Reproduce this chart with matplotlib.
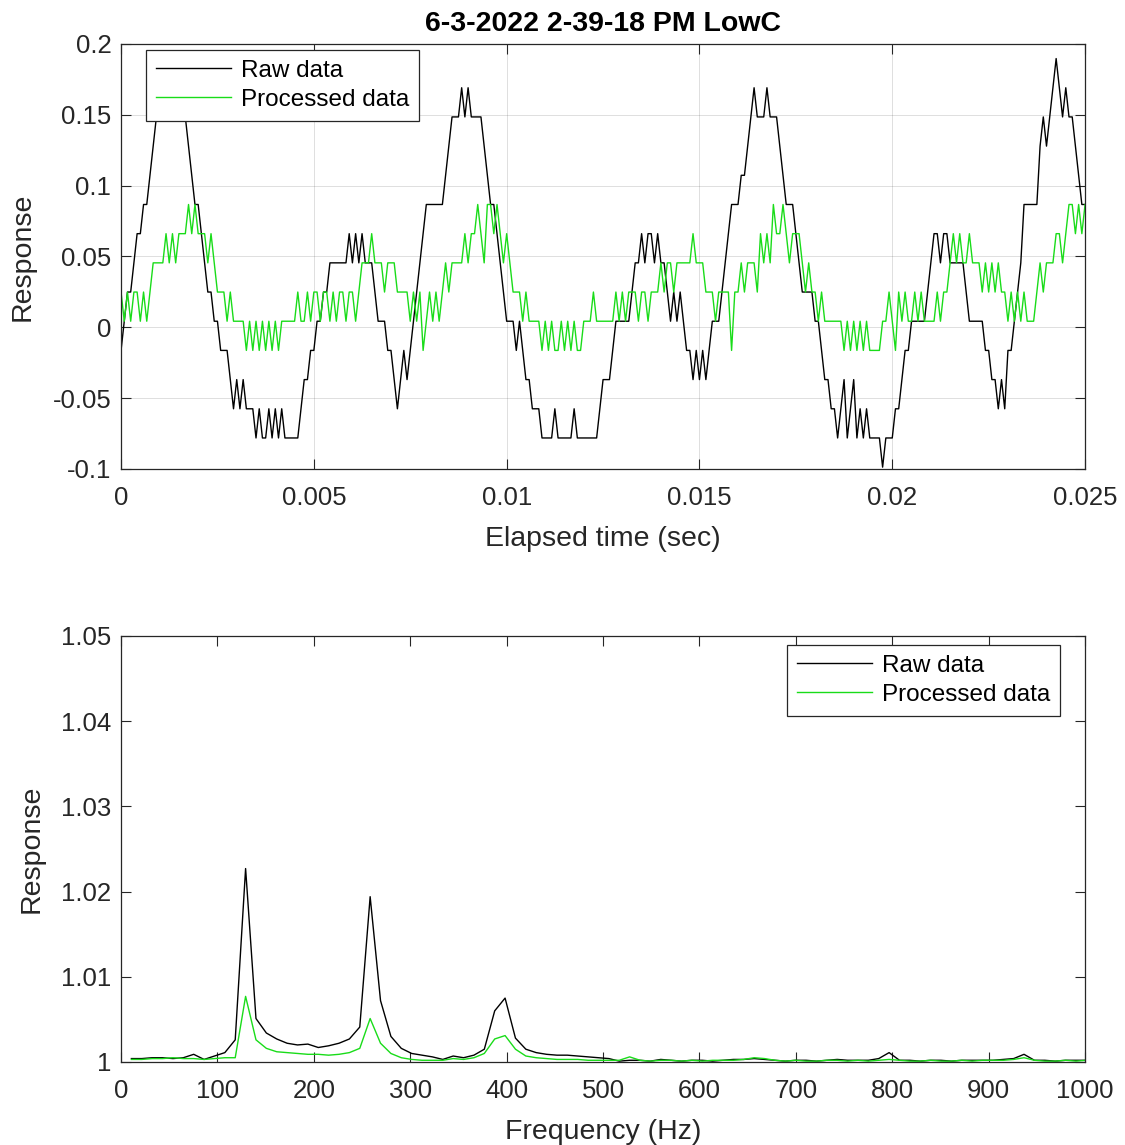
import numpy as np
import matplotlib.pyplot as plt
from matplotlib.ticker import FuncFormatter, MultipleLocator

plt.rcParams["font.family"] = ["Liberation Sans", "DejaVu Sans"]

title = "6-3-2022 2-39-18 PM LowC"

# quantised output levels of the capture; a code k maps to levels[k + 5]
levels = [-0.0987, -0.0781, -0.0575, -0.0369, -0.0163, 0.0043, 0.0249, 0.0455,
          0.0661, 0.0867, 0.1073, 0.1279, 0.1485, 0.1691, 0.1897]

sample_rate = 12000  # Hz

# level codes per sample, 0 .. 0.025 s
raw_codes = [
    -1, 0, 1, 1, 2, 3, 3, 4, 4, 5,
    6, 7, 7, 8, 7, 8, 7, 7, 8, 7,
    7, 6, 5, 4, 4, 3, 2, 1, 1, 0,
    0, -1, -1, -1, -2, -3, -2, -3, -2, -3,
    -3, -3, -4, -3, -4, -4, -3, -4, -3, -4,
    -3, -4, -4, -4, -4, -4, -3, -2, -2, -1,
    -1, 0, 0, 1, 1, 2, 2, 2, 2, 2,
    2, 3, 2, 3, 2, 3, 2, 2, 2, 1,
    0, 0, 0, -1, -1, -2, -3, -2, -1, -2,
    -1, 0, 1, 2, 3, 4, 4, 4, 4, 4,
    4, 5, 6, 7, 7, 7, 8, 7, 8, 7,
    7, 7, 7, 6, 5, 4, 4, 3, 2, 1,
    0, 0, 0, -1, 0, -1, -2, -2, -3, -3,
    -3, -4, -4, -4, -4, -3, -4, -4, -4, -4,
    -4, -3, -4, -4, -4, -4, -4, -4, -4, -3,
    -2, -2, -2, -1, 0, 0, 0, 0, 0, 1,
    2, 2, 3, 2, 3, 3, 2, 3, 2, 2,
    1, 0, 1, 0, 1, 0, -1, -1, -2, -1,
    -2, -1, -2, -1, 0, 0, 0, 1, 2, 3,
    4, 4, 4, 5, 5, 6, 7, 8, 7, 7,
    7, 8, 7, 7, 7, 6, 5, 4, 4, 4,
    3, 2, 1, 1, 1, 1, 0, 0, -1, -2,
    -2, -3, -3, -4, -3, -2, -4, -3, -2, -4,
    -3, -4, -3, -4, -4, -4, -4, -5, -4, -4,
    -4, -3, -3, -2, -1, -1, 0, 0, 0, 0,
    0, 1, 2, 3, 3, 2, 3, 3, 2, 2,
    2, 2, 2, 1, 0, 0, 0, 0, 0, -1,
    -1, -2, -2, -3, -2, -3, -1, -1, 0, 1,
    2, 4, 4, 4, 4, 4, 6, 7, 6, 7,
    8, 9, 8, 7, 8, 7, 7, 6, 5, 4,
    4,
]
processed_codes = [
    1, 0, 1, 0, 1, 1, 0, 1, 0, 1,
    2, 2, 2, 2, 3, 2, 3, 2, 3, 3,
    3, 4, 3, 4, 3, 3, 3, 2, 3, 2,
    1, 1, 1, 0, 1, 0, 0, 0, 0, -1,
    0, -1, 0, -1, 0, -1, 0, -1, 0, -1,
    0, 0, 0, 0, 0, 1, 0, 0, 1, 0,
    1, 1, 0, 1, 1, 0, 1, 0, 1, 1,
    0, 1, 1, 0, 1, 2, 2, 2, 3, 2,
    2, 2, 1, 2, 2, 2, 1, 1, 1, 1,
    0, 1, 0, 1, -1, 0, 1, 0, 1, 0,
    1, 2, 1, 2, 2, 2, 2, 3, 2, 3,
    3, 4, 3, 2, 4, 4, 3, 4, 3, 2,
    3, 2, 1, 1, 1, 0, 1, 0, 0, 0,
    0, -1, 0, -1, 0, -1, -1, 0, -1, 0,
    -1, 0, -1, -1, 0, 0, 0, 1, 0, 0,
    0, 0, 0, 0, 1, 0, 1, 0, 1, 1,
    1, 0, 1, 1, 0, 1, 1, 1, 2, 1,
    2, 2, 1, 2, 2, 2, 2, 2, 3, 2,
    2, 2, 1, 1, 1, 0, 1, 1, 1, 1,
    -1, 1, 1, 2, 1, 2, 2, 2, 1, 3,
    2, 3, 2, 4, 3, 3, 4, 3, 2, 3,
    3, 3, 2, 1, 2, 1, 1, 0, 1, 0,
    0, 0, 0, 0, 0, -1, 0, -1, 0, -1,
    0, -1, 0, -1, -1, -1, -1, 0, 0, 1,
    0, -1, 1, 0, 1, 0, 0, 1, 0, 1,
    0, 0, 0, 0, 1, 0, 1, 1, 2, 3,
    2, 3, 2, 2, 3, 2, 2, 2, 1, 2,
    1, 2, 1, 2, 1, 1, 0, 1, 0, 1,
    0, 1, 0, 0, 0, 1, 2, 1, 2, 2,
    2, 3, 3, 2, 3, 4, 4, 3, 4, 3,
    4,
]

# spectrum: one value per FFT bin, bins 1..93
bin_hz = 44100 / 4096
raw_spectrum = [
    1.0004, 1.0004, 1.0005, 1.0005, 1.0004, 1.0005, 1.0009, 1.0003, 1.0007, 1.0011,
    1.0026, 1.0227, 1.0051, 1.0034, 1.0027, 1.0022, 1.0020, 1.0021, 1.0017, 1.0019,
    1.0022, 1.0027, 1.0041, 1.0194, 1.0072, 1.0030, 1.0016, 1.0010, 1.0008, 1.0006,
    1.0003, 1.0007, 1.0005, 1.0008, 1.0015, 1.0060, 1.0075, 1.0028, 1.0015, 1.0011,
    1.0009, 1.0008, 1.0008, 1.0007, 1.0006, 1.0005, 1.0004, 1.0001, 1.0002, 1.0002,
    1.0001, 1.0003, 1.0002, 1.0001, 1.0002, 1.0002, 1.0001, 1.0002, 1.0003, 1.0003,
    1.0004, 1.0003, 1.0002, 1.0001, 1.0002, 1.0002, 1.0001, 1.0002, 1.0003, 1.0002,
    1.0002, 1.0002, 1.0004, 1.0011, 1.0002, 1.0002, 1.0001, 1.0002, 1.0002, 1.0001,
    1.0002, 1.0002, 1.0002, 1.0002, 1.0003, 1.0004, 1.0009, 1.0002, 1.0002, 1.0001,
    1.0002, 1.0002, 1.0002,
]
processed_spectrum = [
    1.0003, 1.0003, 1.0004, 1.0004, 1.0005, 1.0004, 1.0004, 1.0003, 1.0004, 1.0005,
    1.0005, 1.0077, 1.0026, 1.0016, 1.0012, 1.0011, 1.0010, 1.0009, 1.0009, 1.0008,
    1.0009, 1.0011, 1.0016, 1.0051, 1.0022, 1.0010, 1.0005, 1.0003, 1.0002, 1.0002,
    1.0002, 1.0004, 1.0003, 1.0005, 1.0010, 1.0027, 1.0031, 1.0015, 1.0007, 1.0005,
    1.0004, 1.0003, 1.0003, 1.0003, 1.0002, 1.0002, 1.0002, 1.0002, 1.0006, 1.0002,
    1.0001, 1.0002, 1.0002, 1.0001, 1.0002, 1.0001, 1.0002, 1.0002, 1.0002, 1.0003,
    1.0005, 1.0004, 1.0002, 1.0001, 1.0002, 1.0001, 1.0001, 1.0002, 1.0002, 1.0001,
    1.0002, 1.0001, 1.0002, 1.0003, 1.0002, 1.0001, 1.0001, 1.0002, 1.0001, 1.0001,
    1.0002, 1.0001, 1.0002, 1.0002, 1.0002, 1.0003, 1.0005, 1.0002, 1.0001, 1.0001,
    1.0002, 1.0001, 1.0002,
]

labels = ["Raw data", "Processed data"]
raw_color = "black"
proc_color = "#19dc19"
axis_color = "#262626"

t = np.arange(len(raw_codes)) / sample_rate
raw = np.array([levels[k + 5] for k in raw_codes])
processed = np.array([levels[k + 5] for k in processed_codes])
freqs = bin_hz * np.arange(1, len(raw_spectrum) + 1)

fig = plt.figure(figsize=(11.25, 11.45), dpi=100)
ax1 = fig.add_axes([0.1076, 0.5904, 0.8569, 0.3712])
ax2 = fig.add_axes([0.1076, 0.0725, 0.8569, 0.3721])

fmt = FuncFormatter(lambda v, pos: "%g" % round(v, 6))
legend_kw = dict(borderaxespad=0, fontsize=17.5, fancybox=False, framealpha=1,
                 edgecolor=axis_color, handlelength=3.1, handletextpad=0.4,
                 labelspacing=0.3, borderpad=0.4)


def style(ax):
    for s in ax.spines.values():
        s.set_color(axis_color)
        s.set_linewidth(0.9)
    ax.tick_params(direction="in", length=7, width=0.8, color=axis_color,
                   top=True, right=True, labelsize=18.5, labelcolor=axis_color)
    ax.tick_params(axis="x", pad=12)
    ax.tick_params(axis="y", pad=7)
    ax.xaxis.set_major_formatter(fmt)
    ax.yaxis.set_major_formatter(fmt)


# time domain
ax1.plot(t, raw, color=raw_color, lw=1.0, label=labels[0])
ax1.plot(t, processed, color=proc_color, lw=1.0, label=labels[1])
ax1.set_xlim(0, 0.025)
ax1.set_ylim(-0.1, 0.2)
ax1.xaxis.set_major_locator(MultipleLocator(0.005))
ax1.yaxis.set_major_locator(MultipleLocator(0.05))
ax1.grid(True, color=axis_color, alpha=0.15, lw=0.7)
ax1.set_axisbelow(True)
style(ax1)
ax1.set_xlabel("Elapsed time (sec)", fontsize=20.5, color=axis_color, labelpad=12)
ax1.set_ylabel("Response", fontsize=20.5, color=axis_color, labelpad=12)
ax1.set_title(title, fontsize=20.5, fontweight="bold", pad=9)
leg1 = ax1.legend(loc="upper left", bbox_to_anchor=(0.026, 0.986), **legend_kw)
leg1.get_frame().set_linewidth(0.9)

# frequency domain
ax2.plot(freqs, raw_spectrum, color=raw_color, lw=1.0, label=labels[0])
ax2.plot(freqs, processed_spectrum, color=proc_color, lw=1.0, label=labels[1])
ax2.set_xlim(0, 1000)
ax2.set_ylim(1, 1.05)
ax2.xaxis.set_major_locator(MultipleLocator(100))
ax2.yaxis.set_major_locator(MultipleLocator(0.01))
style(ax2)
ax2.set_xlabel("Frequency (Hz)", fontsize=20.5, color=axis_color, labelpad=12)
ax2.set_ylabel("Response", fontsize=20.5, color=axis_color, labelpad=12)
leg2 = ax2.legend(loc="upper right", bbox_to_anchor=(0.974, 0.979), **legend_kw)
leg2.get_frame().set_linewidth(0.9)

fig.savefig("out.png", dpi=100)
